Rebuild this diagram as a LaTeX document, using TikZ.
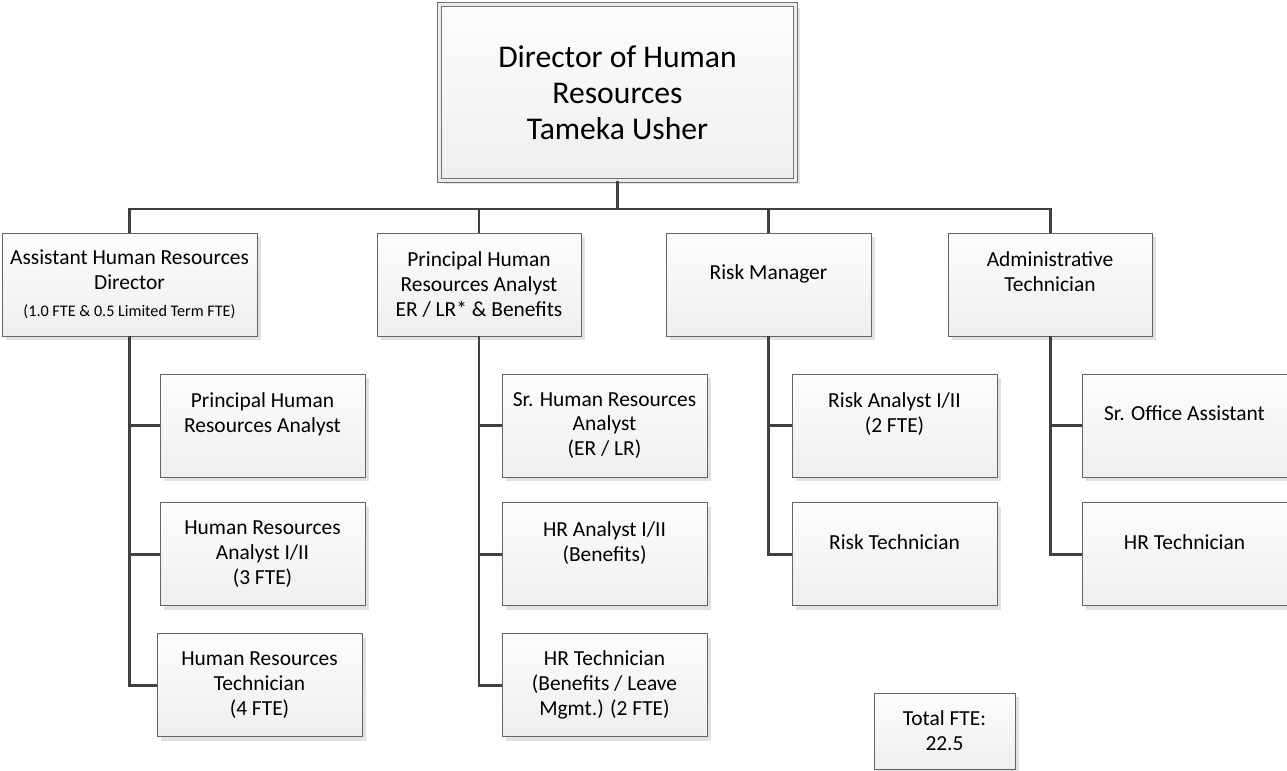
\documentclass[tikz,border=0pt]{standalone}
\usepackage{fontspec}
\setmainfont{Carlito}
\usepackage{tikz}
\usetikzlibrary{positioning, shadows}
\definecolor{linea}{RGB}{64, 64, 64}
\definecolor{borde}{RGB}{100, 100, 100}
\definecolor{sombra}{RGB}{225, 225, 225}
\tikzset{
    box/.style={draw=borde, line width=0.5pt, top color=gray!2, bottom color=gray!13, align=center, inner sep=2pt,
        minimum width=4.1cm, minimum height=2.06cm, font=\fontsize{12.2}{14.2}\selectfont,
        general shadow={fill=sombra, shadow xshift=0.08cm, shadow yshift=-0.08cm}},
    boss/.style={box, draw=gray!90!black, double=gray!15, double distance=0.05cm,
        minimum width=7.12cm, minimum height=3.52cm, font=\fontsize{18}{20.5}\selectfont},
    conn/.style={-, linea, line width=1.7pt},
}
\begin{document}
\begin{tikzpicture}
        \fill[white] (0,0) rectangle (25.74,-15.42);
        \useasboundingbox (0,0) rectangle (25.74,-15.42);

        \node [boss] (dir) at (12.35,-1.85) {Director of Human\\Resources\\Tameka Usher};

        \node [box, minimum width=5.1cm] (asst) at (2.59,-5.69) {Assistant Human Resources\\Director\\[1pt]{\fontsize{9.2}{10}\selectfont (1.0 FTE \& 0.5 Limited Term FTE)}};
        \node [box, minimum width=4.08cm] (pra) at (9.58,-5.69) {Principal Human\\Resources Analyst\\ER / LR* \& Benefits};
        \node [box] (rm) at (15.37,-5.69) {Risk Manager\\~};
        \node [box, minimum width=4.08cm] (admt) at (21.0,-5.69) {Administrative\\Technician\\~};

        \node [box] (asst1) at (5.25,-8.51) {Principal Human\\Resources Analyst\\~};
        \node [box, below=0.5cm of asst1] (asst2) {Human Resources\\Analyst I/II\\(3 FTE)};
        \node [box, below=0.54cm of asst2, xshift=-0.06cm] (asst3) {Human Resources\\Technician\\(4 FTE)};

        \node [box] (pra1) at (12.09,-8.51) {Sr. Human Resources\\Analyst\\(ER / LR)};
        \node [box, below=0.5cm of pra1] (pra2) {HR Analyst I/II\\(Benefits)\\~};
        \node [box, below=0.54cm of pra2] (pra3) {HR Technician\\(Benefits / Leave\\Mgmt.) (2 FTE)};

        \node [box] (rm1) at (17.89,-8.51) {Risk Analyst I/II\\(2 FTE)\\~};
        \node [box, below=0.5cm of rm1] (rm2) {Risk Technician\\~};

        \node [box] (admt1) at (23.69,-8.51) {Sr. Office Assistant\\~};
        \node [box, below=0.5cm of admt1] (admt2) {HR Technician\\~};

        \node [box, minimum width=2.82cm, minimum height=1.52cm] (tot) at (18.89,-14.62) {Total FTE:\\22.5};

        \coordinate (bus) at (12.35,-4.18);
        \draw[conn] (dir.south) -- (bus);
        \draw[conn] (asst.north) |- (bus) -| (admt.north);
        \draw[conn] (pra.north) -- (pra.north |- bus);
        \draw[conn] (rm.north) -- (rm.north |- bus);

        \draw[conn] (asst.south) |- (asst1.west);
        \draw[conn] (asst.south) |- (asst2.west);
        \draw[conn] (asst.south) |- (asst3.west);
        \draw[conn] (pra.south) |- (pra1.west);
        \draw[conn] (pra.south) |- (pra2.west);
        \draw[conn] (pra.south) |- (pra3.west);
        \draw[conn] (rm.south) |- (rm1.west);
        \draw[conn] (rm.south) |- (rm2.west);
        \draw[conn] (admt.south) |- (admt1.west);
        \draw[conn] (admt.south) |- (admt2.west);
    \end{tikzpicture}
\end{document}
